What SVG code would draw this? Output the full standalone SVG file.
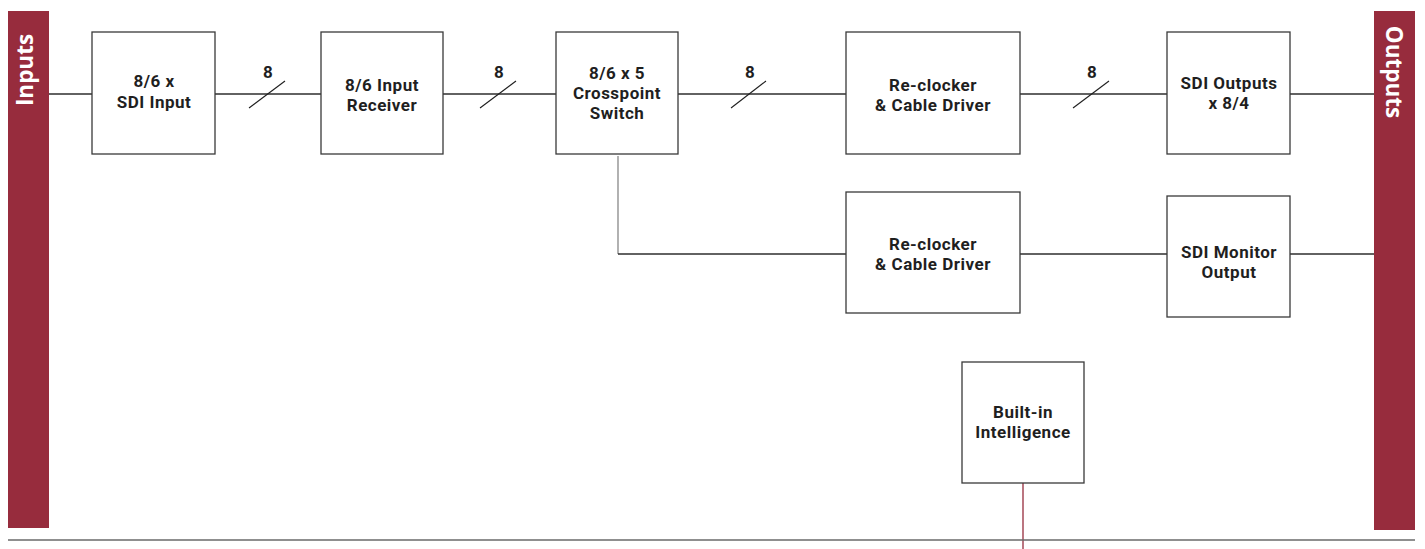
<svg xmlns="http://www.w3.org/2000/svg" width="1425" height="549" viewBox="0 0 1425 549">
  <style>
    .box { fill: #ffffff; stroke: #3a3a3a; stroke-width: 1.3; }
    .lbl { font-family: Roboto, "Liberation Sans", sans-serif; font-weight: 700; font-size: 17px; letter-spacing: 0.5px; fill: #1f1f1f; text-anchor: middle; }
    .bus { font-family: Roboto, "Liberation Sans", sans-serif; font-weight: 700; font-size: 17px; fill: #1f1f1f; text-anchor: middle; }
    .wire { fill: none; stroke: #2e2e2e; stroke-width: 1.3; }
    .slash { fill: none; stroke: #1f1f1f; stroke-width: 1.1; }
    .bar { fill: #972c3d; }
    .side { font-family: "Open Sans", "Noto Sans", sans-serif; font-weight: 700; font-size: 22.5px; fill: #ffffff; text-anchor: middle; }
  </style>

  <!-- side rails -->
  <g id="inputs">
    <rect class="bar" x="8" y="11" width="41" height="517"/>
    <text class="side" transform="translate(33 70) rotate(-90)">Inputs</text>
  </g>
  <g id="outputs">
    <rect class="bar" x="1374" y="11" width="41" height="519"/>
    <text class="side" transform="translate(1386 72) rotate(90)">Outputs</text>
  </g>

  <!-- connectors -->
  <g id="connectors">
    <line class="wire" x1="49" y1="94" x2="92" y2="94"/>
    <line class="wire" x1="215" y1="94" x2="321" y2="94"/>
    <line class="wire" x1="443" y1="94" x2="556" y2="94"/>
    <line class="wire" x1="678" y1="94" x2="846" y2="94"/>
    <line class="wire" x1="1020" y1="94" x2="1167" y2="94"/>
    <line class="wire" x1="1290" y1="94" x2="1374" y2="94"/>
    <line x1="618" y1="156" x2="618" y2="254" stroke="#888888" stroke-width="1.3"/>
    <line class="wire" x1="618" y1="254" x2="846" y2="254"/>
    <line class="wire" x1="1020" y1="254" x2="1167" y2="254"/>
    <line class="wire" x1="1290" y1="254" x2="1374" y2="254"/>
    <line x1="1023" y1="483" x2="1023" y2="549" stroke="#972c3d" stroke-width="1.3"/>
    <line x1="8" y1="540" x2="1415" y2="540" stroke="#6a6a6a" stroke-width="1.5"/>

    <!-- bus width marks -->
    <line class="slash" x1="249" y1="108" x2="285" y2="81"/>
    <text class="bus" x="268" y="78">8</text>
    <line class="slash" x1="480" y1="108" x2="516" y2="81"/>
    <text class="bus" x="499" y="78">8</text>
    <line class="slash" x1="731" y1="108" x2="766" y2="81"/>
    <text class="bus" x="750" y="78">8</text>
    <line class="slash" x1="1073" y1="108" x2="1109" y2="81"/>
    <text class="bus" x="1092" y="78">8</text>
  </g>

  <!-- blocks -->
  <g id="sdi-input">
    <rect class="box" x="92" y="32" width="123" height="122"/>
    <text class="lbl" x="154" y="87">8/6 x<tspan x="154" dy="21">SDI Input</tspan></text>
  </g>
  <g id="input-receiver">
    <rect class="box" x="321" y="32" width="122" height="122"/>
    <text class="lbl" x="382" y="91">8/6 Input<tspan x="382" dy="20">Receiver</tspan></text>
  </g>
  <g id="crosspoint">
    <rect class="box" x="556" y="32" width="122" height="122"/>
    <text class="lbl" x="617" y="79">8/6 x 5<tspan x="617" dy="20">Crosspoint</tspan><tspan x="617" dy="20">Switch</tspan></text>
  </g>
  <g id="reclocker-main">
    <rect class="box" x="846" y="32" width="174" height="122"/>
    <text class="lbl" x="933" y="91">Re-clocker<tspan x="933" dy="20">&amp; Cable Driver</tspan></text>
  </g>
  <g id="sdi-outputs">
    <rect class="box" x="1167" y="32" width="123" height="122"/>
    <text class="lbl" x="1229" y="89">SDI Outputs<tspan x="1229" dy="20">x 8/4</tspan></text>
  </g>
  <g id="reclocker-monitor">
    <rect class="box" x="846" y="192" width="174" height="121"/>
    <text class="lbl" x="933" y="250">Re-clocker<tspan x="933" dy="20">&amp; Cable Driver</tspan></text>
  </g>
  <g id="monitor-output">
    <rect class="box" x="1167" y="196" width="123" height="121"/>
    <text class="lbl" x="1229" y="258">SDI Monitor<tspan x="1229" dy="20">Output</tspan></text>
  </g>
  <g id="intelligence">
    <rect class="box" x="962" y="362" width="122" height="121"/>
    <text class="lbl" x="1023" y="418">Built-in<tspan x="1023" dy="20">Intelligence</tspan></text>
  </g>
</svg>
